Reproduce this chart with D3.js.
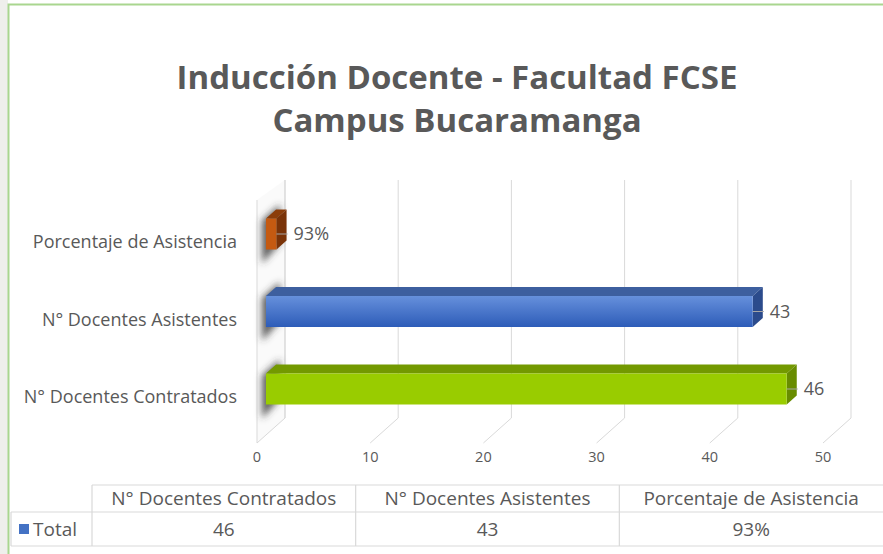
<!DOCTYPE html>
<html>
<head>
<meta charset="utf-8">
<script src="https://cdn.jsdelivr.net/npm/d3@7"></script>
<style>
  html, body { margin: 0; padding: 0; background: #ffffff; }
  svg { display: block; }
  text { font-family: "Open Sans", "Liberation Sans", sans-serif; fill: #595959; }
</style>
</head>
<body>
<svg id="chart" width="883" height="554"></svg>
<script>
// ---- data ----
const titleLines = ["Inducción Docente - Facultad FCSE", "Campus Bucaramanga"];
const categories = ["N° Docentes Contratados", "N° Docentes Asistentes", "Porcentaje de Asistencia"];
const values = [46, 43, 0.93];
const valueLabels = ["46", "43", "93%"];
const xTicks = [0, 10, 20, 30, 40, 50];
const seriesName = "Total";

// ---- colours ----
const faceColors = [
  { front: "#99cc00", top: "#739900", side: "#688c00" },
  { front: "url(#blueGrad)", top: "#3d5f9f", side: "#2b4b8c" },
  { front: "#c55a11", top: "#8b3d0a", side: "#7a3308" }
];

const svg = d3.select("#chart");
const defs = svg.append("defs");
const bg = defs.append("linearGradient").attr("id", "blueGrad").attr("x1", 0).attr("y1", 0).attr("x2", 0).attr("y2", 1);
bg.append("stop").attr("offset", "0%").attr("stop-color", "#6690dc");
bg.append("stop").attr("offset", "100%").attr("stop-color", "#2d5cb8");
defs.append("filter").attr("id", "blur").attr("x", "-100%").attr("y", "-50%").attr("width", "300%").attr("height", "200%")
  .append("feGaussianBlur").attr("stdDeviation", 3.5);

// left decorative strip
svg.append("rect").attr("x", 0).attr("y", 0).attr("width", 8).attr("height", 554).attr("fill", "#efefec");

// frame
svg.append("path").attr("d", "M8.5,554 L8.5,4.5 L883,4.5").attr("fill", "none").attr("stroke", "#a9d68f").attr("stroke-width", 2);

// title
svg.append("g").selectAll("text").data(titleLines).join("text")
  .attr("x", 457).attr("y", (d, i) => 89 + i * 43)
  .attr("text-anchor", "middle").attr("font-size", 33).attr("font-weight", "bold")
  .text(d => d);

// ---- 3D geometry ----
const x = d3.scaleLinear().domain([0, 50]).range([257, 823]);
const DX = 28, DY = 25;             // full depth offset
const floorY = 443, backTop = 180, frontTop = 200;
const fFront = 0.32, fBack = 0.68;   // bar depth fractions

const y = d3.scaleBand().domain(categories.slice().reverse()).range([180, 459]).padding(0.6);

const grid = svg.append("g").attr("stroke", "#d9d9d9").attr("stroke-width", 1).attr("fill", "none");
// left wall
grid.append("path")
  .attr("d", `M${x(0)},${frontTop} L${x(0)},${floorY} L${x(0) + DX},${floorY - DY} L${x(0) + DX},${backTop}`)
  .attr("fill", "#fafafa");
// back wall verticals + floor diagonals
xTicks.forEach(t => {
  grid.append("line").attr("x1", x(t) + DX).attr("x2", x(t) + DX).attr("y1", backTop).attr("y2", floorY - DY);
  if (t > 0) grid.append("line").attr("x1", x(t)).attr("y1", floorY).attr("x2", x(t) + DX).attr("y2", floorY - DY);
});

// shadows on left wall
const sh = svg.append("g").attr("filter", "url(#blur)");
categories.forEach((c, i) => {
  const yt = y(c), yb = y(c) + y.bandwidth();
  sh.append("path")
    .attr("d", `M${x(0) + 5},${yt - 6} L${x(0) + DX - 5},${yt - 22} L${x(0) + DX - 5},${yb - 14} L${x(0) + 5},${yb + 6}Z`)
    .attr("fill", "#3a3a3a").attr("opacity", 0.8);
});

// bars
const bars = svg.append("g");
categories.forEach((c, i) => {
  const ox1 = DX * fFront, oy1 = DY * fFront;
  const ox2 = DX * fBack, oy2 = DY * fBack;
  const x0 = x(0) + ox1, x1 = x(values[i]) + ox1;
  const yt = y(c) - oy1, yb = y(c) + y.bandwidth() - oy1;
  const ddx = ox2 - ox1, ddy = oy2 - oy1;
  const col = faceColors[i];
  bars.append("path").attr("d", `M${x0},${yt} L${x1},${yt} L${x1 + ddx},${yt - ddy} L${x0 + ddx},${yt - ddy}Z`).attr("fill", col.top);
  bars.append("path").attr("d", `M${x1},${yt} L${x1 + ddx},${yt - ddy} L${x1 + ddx},${yb - ddy} L${x1},${yb}Z`).attr("fill", col.side);
  bars.append("rect").attr("x", x0).attr("y", yt).attr("width", x1 - x0).attr("height", yb - yt).attr("fill", col.front);
  const my = (yt + yb) / 2;
  bars.append("line").attr("x1", x1).attr("x2", x1 + ddx + 1).attr("y1", my).attr("y2", my).attr("stroke", "#a6a6a6").attr("stroke-width", 1);
  bars.append("text").attr("x", x1 + ddx + 7).attr("y", my).attr("dy", "0.36em").attr("font-size", 18).text(valueLabels[i]);
});

// category labels
svg.append("g").selectAll("text").data(categories).join("text")
  .attr("x", 237).attr("y", d => y(d) + y.bandwidth() / 2).attr("dy", "0.36em")
  .attr("text-anchor", "end").attr("font-size", 18).text(d => d);

// tick labels
svg.append("g").selectAll("text").data(xTicks).join("text")
  .attr("x", d => x(d)).attr("y", 457).attr("dy", "0.36em")
  .attr("text-anchor", "middle").attr("font-size", 14.5).text(d => d);

// ---- data table ----
const col = d3.scaleBand().domain(categories).range([92, 883]);
const tY0 = 485, tY1 = 512, tY2 = 546, tLeft = 11;
const tg = svg.append("g").attr("stroke", "#d9d9d9").attr("stroke-width", 1.2);
tg.append("line").attr("x1", 92).attr("x2", 883).attr("y1", tY0).attr("y2", tY0);
tg.append("line").attr("x1", tLeft).attr("x2", 883).attr("y1", tY1).attr("y2", tY1);
tg.append("line").attr("x1", tLeft).attr("x2", 883).attr("y1", tY2).attr("y2", tY2);
tg.append("line").attr("x1", tLeft).attr("x2", tLeft).attr("y1", tY1).attr("y2", tY2);
categories.forEach(c => {
  tg.append("line").attr("x1", col(c)).attr("x2", col(c)).attr("y1", tY0).attr("y2", tY2);
});
const tt = svg.append("g");
tt.selectAll("text.h").data(categories).join("text").attr("class", "h")
  .attr("x", d => col(d) + col.bandwidth() / 2).attr("y", (tY0 + tY1) / 2).attr("dy", "0.36em")
  .attr("text-anchor", "middle").attr("font-size", 19).text(d => d);
tt.selectAll("text.v").data(valueLabels).join("text").attr("class", "v")
  .attr("x", (d, i) => col(categories[i]) + col.bandwidth() / 2).attr("y", (tY1 + tY2) / 2).attr("dy", "0.36em")
  .attr("text-anchor", "middle").attr("font-size", 19).text(d => d);
svg.append("rect").attr("x", 19).attr("y", 524).attr("width", 10).attr("height", 10).attr("fill", "#4472c4");
svg.append("text").attr("x", 33).attr("y", (tY1 + tY2) / 2).attr("dy", "0.36em").attr("font-size", 19).text(seriesName);
</script>
</body>
</html>
